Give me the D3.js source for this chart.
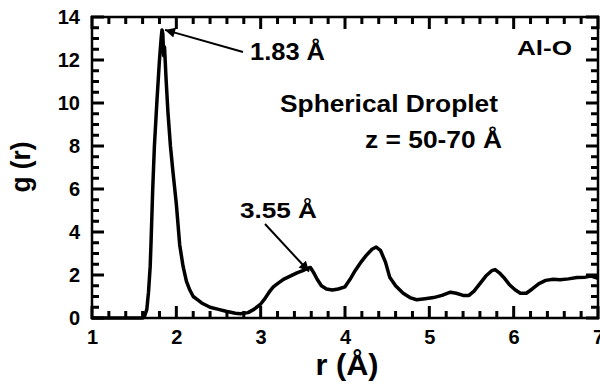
<!DOCTYPE html>
<html><head><meta charset="utf-8">
<script src="https://cdn.jsdelivr.net/npm/d3@7"></script>
<style>body{margin:0;background:#fff}svg{display:block}text{font-family:"Liberation Sans",Arial,Helvetica,sans-serif;font-weight:bold;fill:#000}</style>
</head><body>
<svg id="c" width="600" height="387"></svg>
<script>
const rValues = [1.0,1.3,1.6,1.62,1.65,1.67,1.69,1.70,1.72,1.74,1.77,1.80,1.82,1.83,1.84,1.85,1.86,1.88,1.90,1.93,1.96,2.00,2.04,2.08,2.12,2.16,2.20,2.25,2.30,2.40,2.50,2.60,2.70,2.76,2.85,2.92,3.00,3.05,3.10,3.15,3.20,3.27,3.35,3.43,3.50,3.55,3.59,3.63,3.67,3.72,3.78,3.85,3.92,4.00,4.06,4.12,4.18,4.25,4.32,4.37,4.42,4.48,4.53,4.60,4.69,4.77,4.85,4.95,5.05,5.15,5.25,5.32,5.40,5.47,5.53,5.60,5.67,5.74,5.78,5.83,5.88,5.95,6.02,6.08,6.15,6.22,6.30,6.38,6.47,6.55,6.65,6.75,6.85,6.92,7.0];
const gValues = [0,0,0,0.05,0.4,1.2,2.4,3.5,6.0,8.0,10.1,12.0,13.0,13.4,13.2,12.2,12.6,11.0,9.6,8.0,6.8,5.3,3.4,2.4,1.7,1.3,1.0,0.85,0.7,0.5,0.4,0.3,0.22,0.2,0.25,0.4,0.65,0.9,1.2,1.45,1.6,1.8,1.95,2.1,2.2,2.3,2.35,2.1,1.8,1.5,1.35,1.3,1.35,1.45,1.8,2.2,2.55,2.9,3.2,3.3,3.15,2.6,1.9,1.5,1.15,0.95,0.85,0.9,0.95,1.05,1.2,1.15,1.05,1.05,1.25,1.6,1.95,2.2,2.25,2.1,1.9,1.55,1.3,1.15,1.15,1.35,1.6,1.75,1.8,1.78,1.82,1.88,1.9,1.95,1.85];
const xTicks = [1,2,3,4,5,6,7];
const yTicks = [0,2,4,6,8,10,12,14];
const xMinorTicks = [1.2,1.4,1.6,1.8,2.2,2.4,2.6,2.8,3.2,3.4,3.6,3.8,4.2,4.4,4.6,4.8,5.2,5.4,5.6,5.8,6.2,6.4,6.6,6.8];
const yMinorTicks = [0.5,1,1.5,2.5,3,3.5,4.5,5,5.5,6.5,7,7.5,8.5,9,9.5,10.5,11,11.5,12.5,13,13.5];
const xLabel = "r (Å)", yLabel = "g (r)";
const peakLabels = ["1.83 Å", "3.55 Å"];
const peakR = [1.83, 3.55];
const peakG = [13.4, 2.3];

const svg = d3.select("#c");
const x = d3.scaleLinear().domain([1,7]).range([92, 598]);
const y = d3.scaleLinear().domain([0,14]).range([318, 17]);
const X0 = x(1), X1 = x(7), Y0 = y(0), Y1 = y(14);

// curve
const data = rValues.map((r,i)=>[r,gValues[i]]);
svg.append("path").datum(data)
  .attr("fill","none").attr("stroke","#000").attr("stroke-width",3.5)
  .attr("stroke-linejoin","round")
  .attr("d", d3.line().x(d=>x(d[0])).y(d=>y(d[1])));

// inward tick marks on all four sides, as filled rects
const MAJ = 12, MIN = 7, TW = 3;
const xt = xTicks.map(v=>({v:v, L:MAJ})).concat(xMinorTicks.map(v=>({v:v, L:MIN})));
const yt = yTicks.map(v=>({v:v, L:MAJ})).concat(yMinorTicks.map(v=>({v:v, L:MIN})));
svg.selectAll("rect.xb").data(xt).join("rect").attr("class","xb")
  .attr("x",d=>x(d.v)-TW/2).attr("y",d=>Y0-d.L).attr("width",TW).attr("height",d=>d.L+1).attr("fill","#000");
svg.selectAll("rect.xt").data(xt).join("rect").attr("class","xt")
  .attr("x",d=>x(d.v)-TW/2).attr("y",Y1-1).attr("width",TW).attr("height",d=>d.L+1).attr("fill","#000");
svg.selectAll("rect.yl").data(yt).join("rect").attr("class","yl")
  .attr("x",X0-1).attr("y",d=>y(d.v)-TW/2).attr("width",d=>d.L+1).attr("height",TW).attr("fill","#000");
svg.selectAll("rect.yr").data(yt).join("rect").attr("class","yr")
  .attr("x",d=>X1-d.L).attr("y",d=>y(d.v)-TW/2).attr("width",d=>d.L+1).attr("height",TW).attr("fill","#000");

// frame
svg.append("rect").attr("x",X0).attr("y",Y1).attr("width",X1-X0).attr("height",Y0-Y1)
  .attr("fill","none").attr("stroke","#000").attr("stroke-width",2.5);

// tick labels through d3 axes
const xa = svg.append("g").attr("transform",`translate(0,${Y0})`)
  .call(d3.axisBottom(x).tickValues(xTicks).tickSize(0).tickPadding(12).tickFormat(d3.format("d")));
const ya = svg.append("g").attr("transform",`translate(${X0},0)`)
  .call(d3.axisLeft(y).tickValues(yTicks).tickSize(0).tickPadding(12).tickFormat(d3.format("d")));
[xa,ya].forEach(a=>{
  a.select(".domain").remove();
  a.selectAll("text").attr("font-size",20)
   .attr("font-family","Liberation Sans, Arial, sans-serif").attr("font-weight","bold").attr("fill","#000");
});
xa.selectAll("text").attr("dy","0.72em");

svg.append("text").attr("x",347).attr("y",375).attr("text-anchor","middle").attr("font-size",29)
  .attr("textLength",63).attr("lengthAdjust","spacingAndGlyphs").text(xLabel);
svg.append("text").attr("transform","translate(30,167) rotate(-90)").attr("text-anchor","middle").attr("font-size",28)
  .attr("textLength",51).attr("lengthAdjust","spacingAndGlyphs").text(yLabel);

// annotations
svg.append("defs").append("marker").attr("id","ah").attr("viewBox","0 0 10 10").attr("refX",10).attr("refY",5)
  .attr("markerWidth",14).attr("markerHeight",10).attr("markerUnits","userSpaceOnUse").attr("orient","auto")
  .append("path").attr("d","M0,0L10,5L0,10z").attr("fill","#000");

function label(t, xx, yy, size, len){
  return svg.append("text").attr("x",xx).attr("y",yy).attr("font-size",size)
    .attr("textLength",len).attr("lengthAdjust","spacingAndGlyphs").text(t);
}
label(peakLabels[0], 250, 60, 24, 75);
svg.append("line").attr("x1",243).attr("y1",52).attr("x2",x(peakR[0])+3).attr("y2",y(peakG[0]))
  .attr("stroke","#000").attr("stroke-width",2).attr("marker-end","url(#ah)");

label(peakLabels[1], 240, 218, 22, 77);
svg.append("line").attr("x1",265).attr("y1",224).attr("x2",x(peakR[1])+2).attr("y2",y(peakG[1])+3)
  .attr("stroke","#000").attr("stroke-width",2).attr("marker-end","url(#ah)");

label("Al-O", 517, 55, 21, 55);
label("Spherical Droplet", 280, 112, 23, 218);
label("z = 50-70 Å", 365, 148, 23, 137);
</script>
</body></html>
